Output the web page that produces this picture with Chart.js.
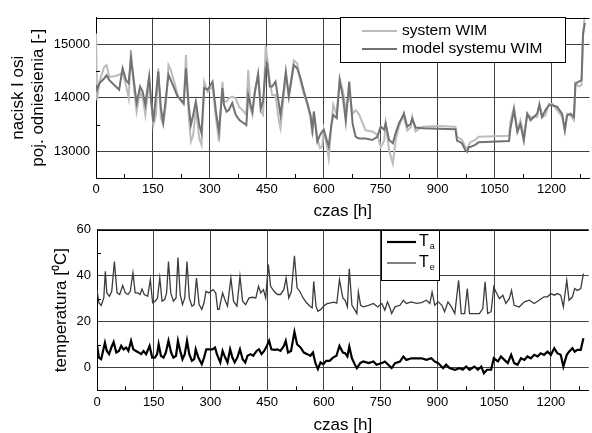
<!DOCTYPE html>
<html>
<head>
<meta charset="utf-8">
<title>nacisk osi / temperatura</title>
<script src="https://cdn.jsdelivr.net/npm/chart.js@4.4.0/dist/chart.umd.min.js"></script>
<style>
  html, body { margin: 0; padding: 0; background: #fff; }
  #wrap { position: relative; width: 592px; height: 433px; overflow: hidden; }
  canvas { position: absolute; left: 0; }
  #chartWim { top: 0; }
  #chartTemp { top: 216px; }
</style>
</head>
<body>
<div id="wrap">
  <canvas id="chartWim" width="592" height="222"></canvas>
  <canvas id="chartTemp" width="592" height="220"></canvas>
</div>
<script>
// czas [h] - tick labels shared by both plots
const hourTicks = [0, 150, 300, 450, 600, 750, 900, 1050, 1200];

// top plot: nacisk I osi, system WIM vs model
const wimTicks = [13000, 14000, 15000];
const wimTime = [
  0, 3, 9, 22, 28, 35, 48, 61, 70, 79,
  86, 92, 101, 107, 116, 123, 130, 140, 145, 151,
  158, 164, 171, 177, 184, 191, 197, 206, 215, 224,
  231, 237, 244, 250, 256, 263, 272, 278, 285, 294,
  307, 316, 324, 333, 337, 344, 350, 359, 368, 377,
  390, 396, 401, 407, 412, 418, 427, 434, 440, 447,
  451, 458, 464, 473, 482, 486, 493, 500, 508, 521,
  530, 539, 548, 557, 565, 570, 574, 583, 590, 596,
  600, 609, 613, 620, 625, 634, 642, 651, 658, 667,
  676, 684, 693, 710, 728, 741, 750, 759, 763, 772,
  782, 789, 798, 807, 811, 820, 829, 833, 842, 851,
  860, 900, 947, 951, 964, 973, 978, 982, 986, 999,
  1008, 1088, 1092, 1101, 1110, 1118, 1127, 1136, 1145, 1153,
  1162, 1168, 1175, 1184, 1193, 1202, 1215, 1228, 1235, 1241,
  1250, 1259, 1263, 1272, 1279, 1283, 1288
];
const wimSystem = [
  15200, 13950, 14300, 14580, 14610, 14390, 14400, 14430, 14470, 14240,
  13990, 14890, 14110, 13740, 14110, 13990, 13680, 14300, 13930, 13490,
  13680, 14550, 13620, 13490, 13870, 14610, 14520, 14300, 14050, 13930,
  13870, 14800, 13680, 13180, 13300, 13810, 13240, 13120, 14300, 14110,
  14210, 13620, 13180, 14300, 13930, 13930, 13990, 14020, 13990, 13830,
  13740, 13680, 14520, 13800, 13680, 14110, 14460, 13740, 13680, 14960,
  14740, 14300, 14050, 14050, 13560, 13430, 13930, 14420, 14050, 14700,
  14640, 14300, 14050, 13870, 13620, 13300, 13740, 13240, 13060, 13090,
  13400, 13060, 12870, 13490, 13870, 13680, 14360, 14110, 13750, 14140,
  13700, 13770, 13690, 13390, 13370, 13310, 13080, 13190, 13520, 13020,
  12770, 13190, 13460, 13640, 13620, 13390, 13450, 13640, 13370, 13420,
  13460, 13470, 13460, 13270, 13210, 13080, 13050, 13110, 13170, 13210,
  13270, 13290, 13560, 13830, 13390, 13580, 13270, 13700, 13640, 13640,
  13640, 13890, 13640, 13670, 13890, 13890, 13770, 13640, 13390, 13700,
  13670, 13580, 14270, 14210, 14240, 15140, 15650
];
const wimModel = [
  14240, 14150, 14270, 14365, 14420, 14330, 14240, 14150, 14550, 14330,
  14270, 14740, 14240, 13900, 14210, 14110, 13870, 14400, 13990, 13550,
  14050, 14490, 13800, 13550, 13990, 14430, 14330, 14180, 14020, 13960,
  13900, 14550, 13870, 13490, 13680, 13930, 13490, 13340, 14180, 14150,
  14300, 13740, 13370, 14180, 13870, 13740, 13770, 13900, 13680, 13590,
  13520, 13490, 14050, 13870, 13740, 14080, 14430, 13800, 13930, 14550,
  14610, 14210, 14210, 14300, 13870, 13680, 14050, 14490, 14020, 14610,
  14550, 14360, 14110, 13890, 13680, 13400, 13740, 13180, 13300, 13370,
  13400, 13180, 13090, 13490, 13680, 13620, 14330, 13990, 13560, 14300,
  13510, 13270, 13240, 13240, 13210, 13270, 13460, 13400, 13520, 13210,
  13150, 13330, 13520, 13640, 13710, 13460, 13510, 13610, 13440, 13440,
  13430, 13420, 13410, 13200, 13150, 13020, 12990, 13080, 13080, 13120,
  13170, 13190, 13440, 13770, 13360, 13510, 13200, 13700, 13580, 13640,
  13700, 13860, 13640, 13770, 13860, 13860, 13830, 13700, 13390, 13670,
  13700, 13640, 14270, 14300, 14330, 15200, 15400
];

// bottom plot: temperatura T_a and T_e
const tempTicks = [0, 20, 40, 60];
const taTime = [
  0, 5, 11, 16, 21, 26, 32, 38, 44, 51,
  58, 64, 70, 77, 83, 90, 96, 103, 110, 117,
  123, 130, 139, 146, 153, 159, 163, 169, 176, 182,
  189, 196, 202, 209, 214, 220, 226, 232, 238, 244,
  251, 257, 261, 268, 277, 283, 289, 296, 305, 312,
  317, 326, 332, 339, 345, 352, 358, 364, 371, 378,
  385, 392, 398, 406, 413, 422, 428, 435, 442, 449,
  455, 461, 470, 477, 485, 494, 499, 505, 513, 522,
  529, 538, 547, 556, 564, 571, 577, 584, 591, 598,
  606, 615, 624, 633, 641, 650, 656, 662, 667, 674,
  682, 687, 696, 704, 718, 731, 739, 753, 761, 770,
  779, 788, 801, 810, 818, 831, 845, 858, 871, 884,
  893, 902, 915, 923, 932, 946, 959, 967, 976, 985,
  998, 1007, 1016, 1023, 1031, 1042, 1049, 1060, 1068, 1077,
  1086, 1095, 1103, 1112, 1121, 1130, 1138, 1147, 1156, 1165,
  1173, 1182, 1191, 1200, 1209, 1217, 1226, 1233, 1242, 1248,
  1257, 1263, 1270, 1279, 1286
];
const taValues = [
  10.1, 4.3, 3.6, 7.2, 10.8, 7.2, 5.8, 8.7, 11.1, 6.5,
  7.2, 9.4, 7.9, 8.7, 7.2, 11.6, 7.9, 7.2, 6.5, 5.8,
  7.2, 5.8, 9.4, 4.3, 4.3, 5.8, 10.1, 5.1, 4.3, 6.5,
  11.6, 6.5, 4.3, 5.1, 11.6, 7.2, 3.6, 5.8, 11.6, 5.8,
  2.9, 3.6, 7.9, 4.3, 1.4, 4.3, 7.9, 7.9, 7.9, 8.7,
  5.8, 2.2, 7.2, 4.3, 2.2, 7.9, 4.3, 2.2, 4.3, 7.9,
  3.6, 2.2, 5.1, 5.8, 5.1, 7.2, 7.9, 5.8, 7.2, 9.4,
  11.6, 7.9, 7.7, 7.9, 7.2, 9.4, 11.6, 6.5, 7.2, 15.5,
  10.1, 8.7, 6.5, 5.8, 5.1, 6.5, 2.2, -0.7, 2.2, 1.4,
  2.9, 2.9, 4.3, 5.1, 9.4, 6.5, 6.2, 4.8, 9.1, 4.0,
  1.2, -0.3, 1.9, 2.6, 1.9, 2.6, 1.2, 1.9, 2.6, 1.2,
  -0.3, 1.9, 2.6, 4.8, 3.3, 4.0, 4.0, 4.0, 3.3, 4.0,
  2.6, 1.9, -0.3, 1.2, -0.3, -1.0, -0.3, -1.0, 0.4, -1.0,
  0.4, -1.0, 0.4, -2.5, -1.0, -1.0, 4.0, 2.6, 4.8, 3.3,
  1.9, 5.5, 1.9, 1.2, 4.0, 3.3, 4.8, 4.0, 5.5, 4.8,
  6.2, 5.5, 6.9, 5.5, 8.4, 6.2, 5.5, 0.4, 5.5, 6.9,
  8.4, 6.9, 7.7, 7.7, 12.7
];
const teTime = [
  0, 5, 11, 18, 22, 26, 33, 39, 46, 53,
  60, 68, 75, 82, 88, 95, 101, 108, 114, 119,
  125, 134, 141, 147, 154, 160, 166, 172, 179, 184,
  189, 195, 202, 209, 214, 220, 226, 232, 238, 244,
  251, 257, 263, 270, 277, 283, 288, 295, 301, 307,
  314, 319, 323, 332, 338, 345, 354, 361, 370, 378,
  385, 393, 402, 411, 420, 427, 433, 440, 446, 453,
  459, 468, 477, 485, 494, 500, 507, 514, 522, 529,
  536, 545, 554, 563, 569, 573, 579, 584, 592, 599,
  608, 615, 626, 634, 641, 650, 656, 662, 667, 674,
  682, 687, 691, 697, 704, 718, 731, 742, 753, 761,
  768, 775, 779, 788, 801, 810, 818, 831, 845, 858,
  871, 880, 886, 893, 902, 912, 919, 928, 937, 946,
  956, 963, 972, 979, 985, 998, 1011, 1020, 1026, 1033,
  1042, 1049, 1055, 1064, 1073, 1081, 1090, 1096, 1103, 1116,
  1130, 1143, 1156, 1169, 1182, 1191, 1200, 1209, 1217, 1226,
  1233, 1242, 1248, 1257, 1263, 1270, 1279, 1286
];
const teValues = [
  33.9, 28.2, 27.0, 30.3, 41.9, 32.5, 31.0, 33.2, 46.2, 32.5,
  31.8, 35.7, 32.5, 31.8, 33.2, 41.2, 32.5, 32.5, 31.8, 34.2,
  31.8, 31.0, 38.3, 28.2, 28.9, 30.3, 39.0, 28.9, 29.6, 32.5,
  46.2, 32.5, 28.9, 30.3, 47.9, 31.8, 27.4, 30.3, 46.2, 30.3,
  26.7, 27.4, 39.0, 27.4, 25.3, 28.2, 33.2, 32.5, 33.2, 33.9,
  32.5, 25.3, 25.3, 32.5, 29.6, 26.7, 39.0, 28.9, 26.7, 39.7,
  28.9, 27.4, 30.3, 30.6, 30.3, 35.4, 32.5, 33.9, 30.3, 44.8,
  35.4, 33.2, 31.8, 31.8, 33.9, 39.0, 30.3, 33.2, 48.7, 34.7,
  33.2, 30.3, 28.2, 26.7, 26.0, 37.5, 26.7, 24.5, 25.3, 26.7,
  27.8, 28.0, 28.5, 28.0, 38.3, 30.3, 29.3, 26.4, 43.0, 27.1,
  25.0, 23.5, 32.9, 27.1, 26.4, 27.1, 27.9, 26.4, 27.9, 25.0,
  28.6, 25.7, 23.5, 26.4, 27.1, 29.3, 27.9, 28.6, 27.9, 28.3,
  29.3, 27.9, 32.9, 27.1, 28.6, 27.1, 24.3, 28.6, 26.4, 23.5,
  38.0, 23.5, 23.5, 34.4, 23.5, 23.5, 23.5, 25.7, 37.3, 23.5,
  24.3, 35.1, 32.9, 30.0, 31.5, 27.9, 30.0, 33.6, 27.1, 26.4,
  28.6, 29.3, 27.9, 29.3, 30.8, 30.8, 32.2, 31.5, 32.2, 31.5,
  26.4, 38.0, 29.3, 30.8, 34.4, 33.6, 34.4, 40.9
];

Chart.defaults.font.family = "'Liberation Sans', Arial, sans-serif";
Chart.defaults.color = '#000';

function pairs(xs, ys) {
  return xs.map((x, i) => ({ x: x, y: ys[i] }));
}

// top frame line, inward minor ticks and a boxed legend inside the plot
const frameAndLegend = {
  id: 'frameAndLegend',
  afterDraw(chart, args, opts) {
    const ctx = chart.ctx;
    const area = chart.chartArea;
    const xs = chart.scales.x, ys = chart.scales.y;
    ctx.save();
    ctx.strokeStyle = '#000';
    ctx.lineWidth = 1;
    ctx.beginPath();
    ctx.moveTo(area.left, Math.round(area.top) + 0.5);
    ctx.lineTo(area.right, Math.round(area.top) + 0.5);
    ctx.stroke();

    const minors = (scale, half) => {
      const majors = scale.ticks.map(t => t.value);
      const out = [];
      majors.forEach(v => {
        [v - half, v + half].forEach(m => {
          if (m > scale.min && m < scale.max && majors.indexOf(m) < 0 && out.indexOf(m) < 0) out.push(m);
        });
      });
      return out;
    };
    ctx.beginPath();
    minors(xs, opts.xHalf).forEach(v => {
      const px = Math.round(xs.getPixelForValue(v)) + 0.5;
      ctx.moveTo(px, area.bottom);
      ctx.lineTo(px, area.bottom - 4);
    });
    minors(ys, opts.yHalf).forEach(v => {
      const py = Math.round(ys.getPixelForValue(v)) + 0.5;
      ctx.moveTo(area.left, py);
      ctx.lineTo(area.left + 4, py);
    });
    ctx.stroke();

    const b = opts.box;
    ctx.fillStyle = '#fff';
    ctx.fillRect(b.x, b.y, b.w, b.h);
    ctx.strokeStyle = '#000';
    ctx.strokeRect(b.x + 0.5, b.y + 0.5, b.w, b.h);
    ctx.textBaseline = 'middle';
    ctx.textAlign = 'left';
    chart.data.datasets.forEach((ds, i) => {
      const y = b.y + opts.rows[i];
      ctx.strokeStyle = ds.borderColor;
      ctx.lineWidth = ds.borderWidth;
      ctx.beginPath();
      ctx.moveTo(b.x + opts.lineX[0], y);
      ctx.lineTo(b.x + opts.lineX[1], y);
      ctx.stroke();
      ctx.fillStyle = '#000';
      const parts = ds.label.split('_');
      ctx.font = opts.fontSize + "px 'Liberation Sans', Arial, sans-serif";
      ctx.fillText(parts[0], b.x + opts.textX, y);
      if (parts[1]) {
        const w = ctx.measureText(parts[0]).width;
        ctx.font = opts.subSize + "px 'Liberation Sans', Arial, sans-serif";
        ctx.fillText(parts[1], b.x + opts.textX + w + 1, y + 5);
      }
    });
    ctx.restore();
  }
};

function hourAxis(height) {
  return {
    type: 'linear',
    min: 0,
    max: 1300,
    afterBuildTicks: s => { s.ticks = hourTicks.map(v => ({ value: v })); },
    afterFit: s => { s.height = height; },
    grid: { color: '#404040', lineWidth: 1, drawTicks: false },
    border: { color: '#000', width: 1 },
    ticks: { padding: 4, font: { size: 13 }, maxRotation: 0, autoSkip: false, callback: v => String(v) },
    title: { display: true, text: 'czas [h]', font: { size: 17 }, padding: 0 }
  };
}

new Chart(document.getElementById('chartWim'), {
  type: 'line',
  data: {
    datasets: [
      { label: 'system WIM', data: pairs(wimTime, wimSystem), borderColor: '#bcbcbc', borderWidth: 2, order: 2 },
      { label: 'model systemu WIM', data: pairs(wimTime, wimModel), borderColor: '#727272', borderWidth: 2, order: 1 }
    ]
  },
  options: {
    responsive: false,
    animation: false,
    devicePixelRatio: 1,
    parsing: true,
    elements: { point: { radius: 0 }, line: { tension: 0 } },
    layout: { padding: { top: 17.5, right: 2.5, left: 0, bottom: 0 } },
    plugins: {
      legend: { display: false },
      tooltip: { enabled: false },
      frameAndLegend: {
        xHalf: 75, yHalf: 500,
        box: { x: 340, y: 17, w: 225, h: 45 },
        rows: [14, 32], lineX: [22, 57], textX: 62,
        fontSize: 15.5, subSize: 9
      }
    },
    scales: {
      x: hourAxis(44),
      y: {
        min: 12500,
        max: 15500,
        afterBuildTicks: s => { s.ticks = wimTicks.map(v => ({ value: v })); },
        afterFit: s => { s.width = 96; },
        grid: { color: '#404040', lineWidth: 1, drawTicks: false },
        border: { color: '#000', width: 1 },
        ticks: { padding: 6, font: { size: 13 }, callback: v => String(v) },
        title: { display: true, text: ['nacisk I osi', 'poj. odniesienia [-]'], font: { size: 17 }, padding: { top: 8, bottom: 0 } }
      }
    }
  },
  plugins: [frameAndLegend]
});

new Chart(document.getElementById('chartTemp'), {
  type: 'line',
  data: {
    datasets: [
      { label: 'T_a', data: pairs(taTime, taValues), borderColor: '#000000', borderWidth: 2.2 },
      { label: 'T_e', data: pairs(teTime, teValues), borderColor: '#3c3c3c', borderWidth: 1.3 }
    ]
  },
  options: {
    responsive: false,
    animation: false,
    devicePixelRatio: 1,
    elements: { point: { radius: 0 }, line: { tension: 0 } },
    layout: { padding: { top: 13, right: 3.3, left: 0, bottom: 0 } },
    plugins: {
      legend: { display: false },
      tooltip: { enabled: false },
      frameAndLegend: {
        xHalf: 75, yHalf: 10,
        box: { x: 381, y: 14, w: 58, h: 50 },
        rows: [12, 33], lineX: [6, 35], textX: 38,
        fontSize: 16, subSize: 9
      }
    },
    scales: {
      x: hourAxis(45.6),
      y: {
        min: -10,
        max: 60,
        afterBuildTicks: s => { s.ticks = tempTicks.map(v => ({ value: v })); },
        afterFit: s => { s.width = 97; },
        grid: { color: '#404040', lineWidth: 1, drawTicks: false },
        border: { color: '#000', width: 1 },
        ticks: { padding: 6, font: { size: 13 }, callback: v => String(v) },
        title: { display: true, text: 'temperatura [\u2070C]', font: { size: 17 }, padding: { top: 51, bottom: 0 } }
      }
    }
  },
  plugins: [frameAndLegend]
});
</script>
</body>
</html>
